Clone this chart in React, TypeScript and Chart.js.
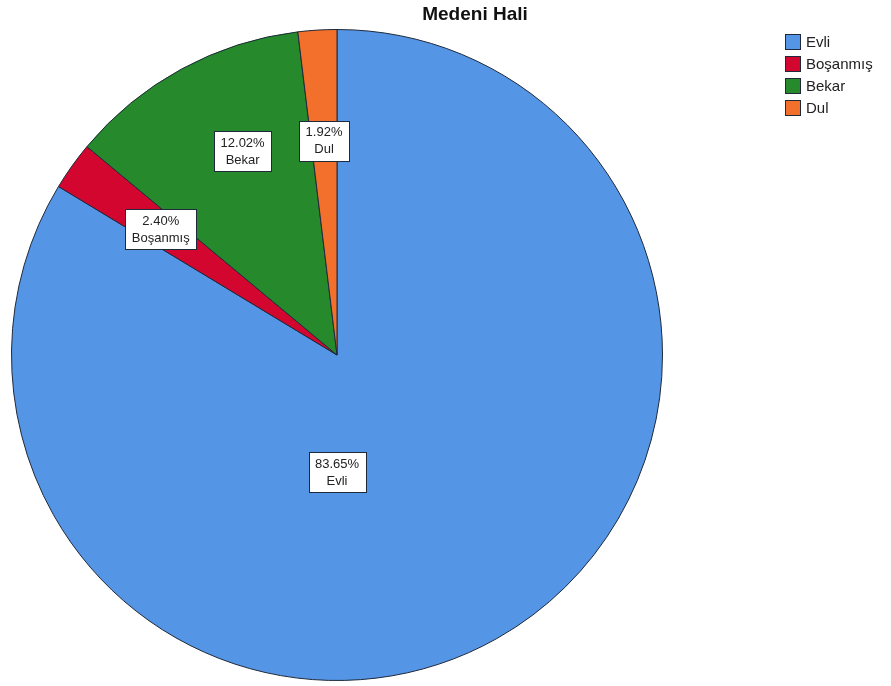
import React, { useEffect, useRef } from "react";
import { Chart, registerables } from "chart.js";

Chart.register(...registerables);

const categories: string[] = ["Evli", "Boşanmış", "Bekar", "Dul"];
const percentages: number[] = [83.65, 2.4, 12.02, 1.92];
const colors: string[] = ["#5595E6", "#D3062F", "#26892B", "#F26F2C"];
const chartTitle = "Medeni Hali";

const FONT = "Arial, 'Liberation Sans', sans-serif";

const overlayPlugin = {
  id: "spssOverlay",
  afterDatasetsDraw(chart: any) {
    const ctx = chart.ctx;
    const meta = chart.getDatasetMeta(0);
    // label placement: radius fraction, optional fixed angle / angle shift (degrees)
    const place: { frac: number; angle?: number; shift?: number }[] = [
      { frac: 0.36, angle: Math.PI / 2 },
      { frac: 0.665 },
      { frac: 0.69, shift: 3.7 },
      { frac: 0.66 },
    ];
    meta.data.forEach((arc: any, i: number) => {
      const { x, y, startAngle, endAngle, outerRadius } = arc.getProps(
        ["x", "y", "startAngle", "endAngle", "outerRadius"],
        true
      );
      const p = place[i];
      const a =
        p.angle !== undefined
          ? p.angle
          : (startAngle + endAngle) / 2 + ((p.shift || 0) * Math.PI) / 180;
      const cx = x + Math.cos(a) * outerRadius * p.frac;
      const cy = y + Math.sin(a) * outerRadius * p.frac;
      const l1 = percentages[i].toFixed(2) + "%";
      const l2 = categories[i];
      ctx.save();
      ctx.font = `13px ${FONT}`;
      const w = Math.round(Math.max(ctx.measureText(l1).width, ctx.measureText(l2).width) + 13);
      const h = 40;
      const bx = Math.round(cx - w / 2) + 0.5;
      const by = Math.round(cy - h / 2) + 0.5;
      ctx.fillStyle = "#ffffff";
      ctx.fillRect(bx, by, w, h);
      ctx.strokeStyle = "#1e2a3a";
      ctx.lineWidth = 1;
      ctx.strokeRect(bx, by, w, h);
      ctx.fillStyle = "#222222";
      ctx.textAlign = "center";
      ctx.textBaseline = "middle";
      ctx.fillText(l1, cx, cy - 8);
      ctx.fillText(l2, cx, cy + 9);
      ctx.restore();
    });
  },
  afterDraw(chart: any) {
    const ctx = chart.ctx;
    ctx.save();
    // title
    ctx.font = `bold 19px ${FONT}`;
    ctx.fillStyle = "#111111";
    ctx.textAlign = "center";
    ctx.textBaseline = "alphabetic";
    ctx.fillText(chartTitle, 475, 20);
    // legend
    ctx.font = `15px ${FONT}`;
    ctx.textAlign = "left";
    ctx.textBaseline = "middle";
    categories.forEach((c, i) => {
      const top = 34 + i * 22;
      ctx.fillStyle = colors[i];
      ctx.fillRect(785.5, top + 0.5, 15, 15);
      ctx.strokeStyle = "#1e2a3a";
      ctx.lineWidth = 1;
      ctx.strokeRect(785.5, top + 0.5, 15, 15);
      ctx.fillStyle = "#222222";
      ctx.fillText(c, 806, top + 8.5);
    });
    ctx.restore();
  },
};

export default function App() {
  const ref = useRef<HTMLCanvasElement | null>(null);
  useEffect(() => {
    if (!ref.current) return;
    const chart = new Chart(ref.current, {
      type: "pie",
      data: {
        labels: categories,
        datasets: [
          {
            data: percentages,
            backgroundColor: colors,
            borderColor: "#1e2a3a",
            borderWidth: 1,
            hoverOffset: 0,
          },
        ],
      },
      options: {
        responsive: false,
        animation: false,
        layout: { padding: { left: 11, top: 29, right: 228, bottom: 5 } },
        plugins: {
          legend: { display: false },
          title: { display: false },
          tooltip: { enabled: false },
        },
      },
      plugins: [overlayPlugin],
    });
    return () => chart.destroy();
  }, []);
  return (
    <div style={{ position: "absolute", left: 0, top: 0, width: 891, height: 686, background: "#fff" }}>
      <canvas ref={ref} width={891} height={686} />
    </div>
  );
}
